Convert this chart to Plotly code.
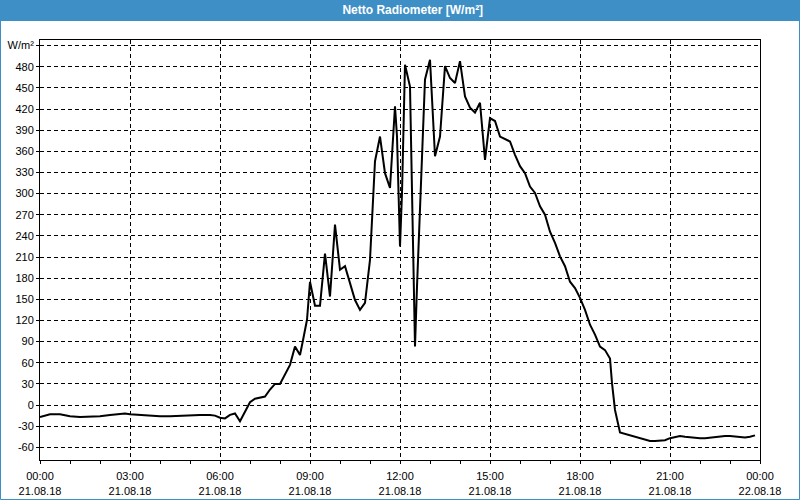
import plotly.graph_objects as go
import pandas as pd

# minutes after 21.08.18 00:00
minutes = [0, 10, 20, 40, 60, 80, 100, 120, 140, 160, 170, 180, 200, 220, 240, 260, 280, 300,
           320, 340, 350, 360, 370, 380, 390, 400, 420, 430, 440, 450, 460, 470, 480, 490, 500,
           510, 520, 526, 534, 540, 550, 560, 570, 580, 590, 600, 610, 620, 630, 640, 650, 660,
           666, 670, 680, 690, 700, 704, 710, 714, 720, 724, 730, 740, 746, 750, 754, 764, 770,
           780, 790, 800, 810, 820, 830, 840, 850, 860, 870, 880, 890, 900, 910, 920, 930, 940,
           950, 960, 970, 980, 990, 1000, 1010, 1020, 1030, 1040, 1050, 1060, 1070, 1080, 1090,
           1100, 1110, 1120, 1130, 1140, 1144, 1150, 1160, 1170, 1180, 1190, 1200, 1210, 1220,
           1230, 1240, 1250, 1260, 1270, 1280, 1290, 1300, 1310, 1320, 1330, 1340, 1350, 1360,
           1370, 1380, 1390, 1400, 1410, 1420, 1430]
values = [-17, -15, -13, -13, -16, -17, -17, -16, -14, -13, -12, -13, -14, -16, -16, -16, -15, -14,
          -14, -14, -15, -18, -19, -14, -12, -23, 4, 9, 10, 12, 22, 30, 30, 43, 57,
          83, 71, 92, 121, 175, 141, 141, 215, 154, 256, 192, 197, 173, 149, 135, 145, 206,
          291, 346, 381, 329, 308, 358, 424, 381, 225, 301, 483, 452, 244, 83, 168, 362, 462,
          490, 353, 381, 481, 464, 457, 488, 438, 422, 415, 429, 348, 407, 403, 381, 377, 374,
          355, 339, 329, 310, 301, 282, 270, 246, 230, 211, 197, 175, 166, 152, 135,
          114, 100, 83, 78, 66, 31, -7, -39, -41, -43, -45, -47, -50, -51,
          -51, -51, -50, -47, -46, -44, -45, -46, -47, -47, -47, -46, -46, -44,
          -44, -44, -45, -46, -46, -45, -43]

x_tick_vals = ["2018-08-21 00:00", "2018-08-21 03:00", "2018-08-21 06:00", "2018-08-21 09:00",
               "2018-08-21 12:00", "2018-08-21 15:00", "2018-08-21 18:00", "2018-08-21 21:00",
               "2018-08-22 00:00"]
x_tick_text = ["00:00<br>21.08.18", "03:00<br>21.08.18", "06:00<br>21.08.18", "09:00<br>21.08.18",
               "12:00<br>21.08.18", "15:00<br>21.08.18", "18:00<br>21.08.18", "21:00<br>21.08.18",
               "00:00<br>22.08.18"]
y_tick_vals = [-60, -30, 0, 30, 60, 90, 120, 150, 180, 210, 240, 270, 300, 330, 360, 390, 420, 450, 480, 510]
y_tick_text = ["-60", "-30", "0", "30", "60", "90", "120", "150", "180", "210", "240", "270",
               "300", "330", "360", "390", "420", "450", "480", "W/m²"]

start = pd.Timestamp("2018-08-21 00:00")
times = [start + pd.Timedelta(minutes=m) for m in minutes]
hour_ticks = [start + pd.Timedelta(hours=h) for h in range(25)]

fig = go.Figure()
fig.add_trace(go.Scatter(x=times, y=values, mode="lines",
                         line=dict(color="black", width=2), hoverinfo="skip"))

font = dict(family="Liberation Sans", size=11, color="black")
fig.update_layout(
    width=800, height=500,
    margin=dict(l=40, r=40, t=40, b=40),
    paper_bgcolor="white", plot_bgcolor="white",
    showlegend=False,
    font=font,
    title=dict(text="<b>Netto Radiometer [W/m²]</b>", x=0.516, xref="container",
               y=0.98, yref="container", yanchor="middle", xanchor="center",
               font=dict(family="Liberation Sans", size=12, color="white")),
)
fig.update_xaxes(
    type="date",
    range=["2018-08-21 00:00", "2018-08-22 00:00"],
    tickmode="array", tickvals=x_tick_vals, ticktext=x_tick_text,
    ticks="outside", ticklen=3, tickcolor="black",
    ticklabelstandoff=3, automargin=False,
    showline=True, linecolor="black", linewidth=1, mirror=True,
    showgrid=True, gridcolor="black", griddash="4px,3px", gridwidth=1,
    minor=dict(tickmode="array", tickvals=hour_ticks, ticks="outside", ticklen=3,
               tickcolor="black", showgrid=False),
    tickfont=font,
)
fig.update_yaxes(
    range=[-78, 518],
    tickmode="array", tickvals=y_tick_vals, ticktext=y_tick_text,
    ticks="outside", ticklen=3, tickcolor="black", automargin=False,
    showline=True, linecolor="black", linewidth=1, mirror=True,
    showgrid=True, gridcolor="black", griddash="4px,3px", gridwidth=1,
    zeroline=False,
    tickfont=font,
)

# title bar and outer border
fig.add_shape(type="rect", xref="paper", yref="paper",
              x0=-40/720, x1=760/720, y0=1 + 19/420, y1=1 + 40/420,
              fillcolor="#3d8fc6", line=dict(width=0), layer="below")
fig.add_shape(type="rect", xref="paper", yref="paper",
              x0=-39.5/720, x1=759.5/720, y0=-39.5/420, y1=1 + 39.5/420,
              fillcolor="rgba(0,0,0,0)", line=dict(color="#3d8fc6", width=1))

fig.write_html("out.html", config={"displayModeBar": False},
               post_script="document.body.style.margin='0';")
